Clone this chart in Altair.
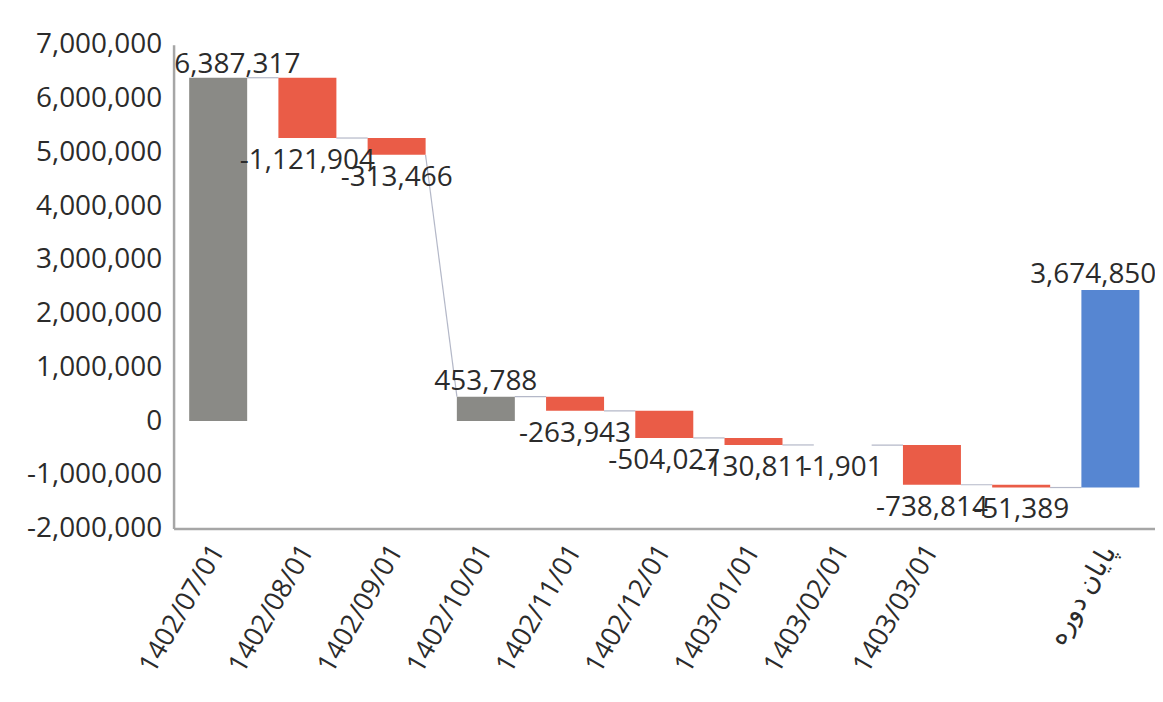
import altair as alt
import pandas as pd

categories = ["1402/07/01", "1402/08/01", "1402/09/01", "1402/10/01", "1402/11/01",
              "1402/12/01", "1403/01/01", "1403/02/01", "1403/03/01", " ", "پایان دوره"]
values = [6387317, -1121904, -313466, 453788, -263943, -504027, -130811, -1901,
          -738814, -51389, 3674850]
kinds = ["total", "change", "change", "total", "change", "change", "change", "change",
         "change", "change", "end"]
y_ticks = [-2000000, -1000000, 0, 1000000, 2000000, 3000000, 4000000, 5000000, 6000000, 7000000]

rows = []
prev = 0
for c, v, k in zip(categories, values, kinds):
    if k == "total":
        s, e = 0, v
    else:
        s, e = prev, prev + v
    rows.append(dict(cat=c, value=v, label=f"{v:,}", kind=k, start=s, end=e,
                     top=max(s, e), bottom=min(s, e)))
    prev = e
df = pd.DataFrame(rows)
df["idx"] = range(len(df))

conn = []
for i in range(len(rows) - 1):
    a, b = rows[i], rows[i + 1]
    target = b["end"] if b["kind"] == "total" else b["start"]
    conn.append(dict(cat=a["cat"], nxt=b["cat"], y1=a["end"], y2=target))
cdf = pd.DataFrame(conn)

FONT = "Open Sans"
FS = 28
TXT = "#2b2b2b"
AX = "#a6a6a6"
xscale = alt.Scale(domain=categories, paddingInner=0.35, paddingOuter=0.175)
yscale = alt.Scale(domain=[-2000000, 7000000], nice=False, zero=False)

xenc = alt.X("cat:N", sort=categories, scale=xscale, title=None,
             axis=alt.Axis(labelAngle=-60, labelFontSize=27, labelFont=FONT,
                           labelColor=TXT, ticks=False, labelPadding=18,
                           domainColor=AX, domainWidth=2.5, labelLimit=300))
yenc = alt.Y("start:Q", scale=yscale, title=None,
             axis=alt.Axis(values=y_ticks, labelExpr="replace(format(datum.value, ','), '−', '-')",
                           labelFontSize=FS, labelFont=FONT,
                           labelColor=TXT, ticks=False, grid=False, labelPadding=12,
                           domainColor=AX, domainWidth=2.5))

bars = alt.Chart(df).mark_bar().encode(
    x=xenc,
    y=yenc,
    y2="end:Q",
    color=alt.Color("kind:N", legend=None,
                    scale=alt.Scale(domain=["total", "change", "end"],
                                    range=["#8a8a86", "#ea5c47", "#5686d2"])),
)

rules = alt.Chart(cdf).mark_rule(color="#b4b8c8", strokeWidth=1.2,
                                 xOffset=29, x2Offset=-29).encode(
    x=alt.X("cat:N", sort=categories, scale=xscale),
    x2="nxt:N",
    y=alt.Y("y1:Q", scale=yscale),
    y2="y2:Q",
)

base_txt = alt.Chart(df)
txt_kw = dict(fontSize=FS, font=FONT, color=TXT)

pos_mid = base_txt.transform_filter("datum.value >= 0 && datum.idx > 0 && datum.idx < 10").mark_text(
    baseline="alphabetic", dy=-7, align="center", **txt_kw).encode(
    x=alt.X("cat:N", sort=categories, scale=xscale), y=alt.Y("top:Q", scale=yscale),
    text="label:N")
neg_mid = base_txt.transform_filter("datum.value < 0").mark_text(
    baseline="top", dy=9, align="center", **txt_kw).encode(
    x=alt.X("cat:N", sort=categories, scale=xscale), y=alt.Y("bottom:Q", scale=yscale),
    text="label:N")
first_lbl = base_txt.transform_filter("datum.idx == 0").mark_text(
    baseline="alphabetic", dy=-5, align="left", dx=-44, **txt_kw).encode(
    x=alt.X("cat:N", sort=categories, scale=xscale), y=alt.Y("top:Q", scale=yscale),
    text="label:N")
last_lbl = base_txt.transform_filter("datum.idx == 10").mark_text(
    baseline="alphabetic", dy=-7, align="right", dx=46, **txt_kw).encode(
    x=alt.X("cat:N", sort=categories, scale=xscale), y=alt.Y("top:Q", scale=yscale),
    text="label:N")

chart = alt.layer(rules, bars, pos_mid, neg_mid, first_lbl, last_lbl).properties(
    width=984, height=485,
    autosize=alt.AutoSizeParams(type="none"),
    padding={"left": 166, "top": 36, "right": 0, "bottom": 160},
    background="white",
).configure_view(stroke=None)

chart.save("out.html", embed_options={"renderer": "svg", "actions": False})
